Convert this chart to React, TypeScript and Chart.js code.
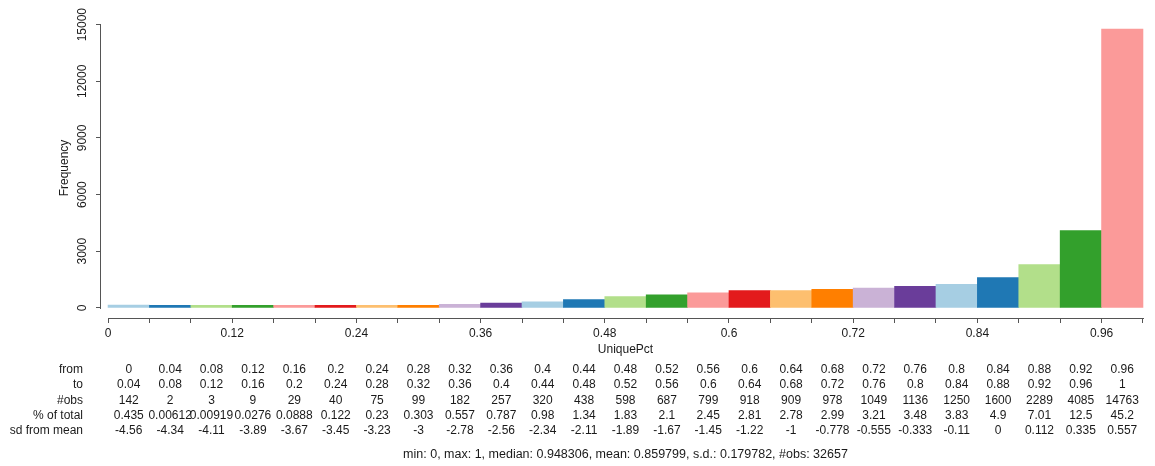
import React, { useEffect, useRef } from 'react';
import { Chart, registerables } from 'chart.js';

Chart.register(...registerables);

const binFrom = [0, 0.04, 0.08, 0.12, 0.16, 0.2, 0.24, 0.28, 0.32, 0.36, 0.4, 0.44, 0.48, 0.52, 0.56, 0.6, 0.64, 0.68, 0.72, 0.76, 0.8, 0.84, 0.88, 0.92, 0.96];
const binTo = [0.04, 0.08, 0.12, 0.16, 0.2, 0.24, 0.28, 0.32, 0.36, 0.4, 0.44, 0.48, 0.52, 0.56, 0.6, 0.64, 0.68, 0.72, 0.76, 0.8, 0.84, 0.88, 0.92, 0.96, 1];
const counts = [142, 2, 3, 9, 29, 40, 75, 99, 182, 257, 320, 438, 598, 687, 799, 918, 909, 978, 1049, 1136, 1250, 1600, 2289, 4085, 14763];
const pctOfTotal = ['0.435', '0.00612', '0.00919', '0.0276', '0.0888', '0.122', '0.23', '0.303', '0.557', '0.787', '0.98', '1.34', '1.83', '2.1', '2.45', '2.81', '2.78', '2.99', '3.21', '3.48', '3.83', '4.9', '7.01', '12.5', '45.2'];
const sdFromMean = ['-4.56', '-4.34', '-4.11', '-3.89', '-3.67', '-3.45', '-3.23', '-3', '-2.78', '-2.56', '-2.34', '-2.11', '-1.89', '-1.67', '-1.45', '-1.22', '-1', '-0.778', '-0.555', '-0.333', '-0.11', '0', '0.112', '0.335', '0.557'];
const rowLabels = ['from', 'to', '#obs', '% of total', 'sd from mean'];
const xTicks = [0, 0.04, 0.08, 0.12, 0.16, 0.2, 0.24, 0.28, 0.32, 0.36, 0.4, 0.44, 0.48, 0.52, 0.56, 0.6, 0.64, 0.68, 0.72, 0.76, 0.8, 0.84, 0.88, 0.92, 0.96, 1];
const xLabelTicks = ['0', '0.12', '0.24', '0.36', '0.48', '0.6', '0.72', '0.84', '0.96'];
const yTicks = [0, 3000, 6000, 9000, 12000, 15000];
const palette = ['#A6CEE3', '#1F78B4', '#B2DF8A', '#33A02C', '#FB9A99', '#E31A1C', '#FDBF6F', '#FF7F00', '#CAB2D6', '#6A3D9A'];
const xTitle = 'UniquePct';
const yTitle = 'Frequency';
const summary = 'min: 0, max: 1, median: 0.948306, mean: 0.859799, s.d.: 0.179782, #obs: 32657';

const FONT = '"Liberation Sans", Arial, Helvetica, sans-serif';
const TEXT = '#1a1a1a';
const AXIS = '#555555';

function fmt(v: number) {
  return String(parseFloat(v.toFixed(4)));
}

const overlay = {
  id: 'rOverlay',
  afterDraw(chart: any) {
    const { ctx, chartArea, scales } = chart;
    const xs = scales.x;
    const ys = scales.y;
    ctx.save();
    // axis lines
    ctx.fillStyle = AXIS;
    const ay = Math.round(chartArea.bottom);
    const x0 = Math.round(xs.getPixelForValue(xTicks[0]));
    const x1 = Math.round(xs.getPixelForValue(xTicks[xTicks.length - 1]));
    ctx.fillRect(x0, ay, x1 - x0 + 1, 1);
    const ax = Math.round(chartArea.left) - 1;
    const y0 = Math.round(ys.getPixelForValue(yTicks[0]));
    const y1 = Math.round(ys.getPixelForValue(yTicks[yTicks.length - 1]));
    ctx.fillRect(ax, y1, 1, y0 - y1 + 1);

    ctx.fillStyle = TEXT;
    ctx.font = `12px ${FONT}`;
    // y tick labels rotated
    ctx.textAlign = 'center';
    ctx.textBaseline = 'middle';
    yTicks.forEach((v) => {
      const py = ys.getPixelForValue(v);
      ctx.save();
      ctx.translate(chartArea.left - 18, py);
      ctx.rotate(-Math.PI / 2);
      ctx.fillText(String(v), 0, 0);
      ctx.restore();
    });
    // y title
    ctx.save();
    ctx.translate(chartArea.left - 36, (chartArea.top + chartArea.bottom) / 2);
    ctx.rotate(-Math.PI / 2);
    ctx.fillText(yTitle, 0, 0);
    ctx.restore();
    // x title
    const cx = (chartArea.left + chartArea.right) / 2;
    ctx.fillText(xTitle, cx, chartArea.bottom + 32);

    // table
    const rows = [
      binFrom.map(fmt),
      binTo.map(fmt),
      counts.map(String),
      pctOfTotal,
      sdFromMean,
    ];
    rows.forEach((row, r) => {
      const py = chartArea.bottom + 51.5 + r * 15.4;
      ctx.textAlign = 'right';
      ctx.fillText(rowLabels[r], chartArea.left - 18, py);
      ctx.textAlign = 'center';
      row.forEach((txt, i) => {
        const px = xs.getPixelForValue((binFrom[i] + binTo[i]) / 2);
        ctx.fillText(txt, px, py);
      });
    });
    ctx.font = `12.5px ${FONT}`;
    ctx.textAlign = 'center';
    ctx.fillText(summary, cx, chartArea.bottom + 137);
    ctx.restore();
  },
};

export default function App() {
  const ref = useRef<HTMLCanvasElement | null>(null);
  useEffect(() => {
    document.body.style.margin = '0';
    const canvas = ref.current;
    if (!canvas) return;
    const chart = new Chart(canvas, {
      type: 'bar',
      data: {
        datasets: [
          {
            data: counts.map((c, i) => ({ x: (binFrom[i] + binTo[i]) / 2, y: c })),
            backgroundColor: counts.map((_, i) => palette[i % palette.length]),
            borderWidth: 0,
            barPercentage: 1,
            categoryPercentage: 1,
            minBarLength: 2.5,
          } as any,
        ],
      },
      options: {
        responsive: false,
        animation: false,
        events: [],
        layout: { padding: { top: 18, right: 5, left: 0, bottom: 0 } },
        plugins: { legend: { display: false }, tooltip: { enabled: false } },
        scales: {
          x: {
            type: 'linear',
            offset: false,
            min: -0.0068,
            max: 1.0068,
            afterBuildTicks: (scale: any) => {
              scale.ticks = xTicks.map((v) => ({ value: v }));
            },
            afterFit: (scale: any) => {
              scale.height = 148;
            },
            ticks: {
              autoSkip: false,
              maxRotation: 0,
              minRotation: 0,
              padding: 3,
              color: TEXT,
              font: { family: FONT, size: 12 },
              callback: (v: any) => {
                const s = fmt(Number(v));
                return xLabelTicks.includes(s) ? s : '';
              },
            },
            grid: {
              offset: false,
              drawOnChartArea: false,
              drawTicks: true,
              tickLength: 5,
              color: AXIS,
              lineWidth: 1,
            },
            border: { display: false },
          },
          y: {
            type: 'linear',
            min: -540,
            max: 15353,
            afterBuildTicks: (scale: any) => {
              scale.ticks = yTicks.map((v) => ({ value: v }));
            },
            afterFit: (scale: any) => {
              scale.width = 101;
            },
            ticks: { display: false },
            grid: {
              drawOnChartArea: false,
              drawTicks: true,
              tickLength: 5,
              color: AXIS,
              lineWidth: 1,
            },
            border: { display: false },
          },
        },
      } as any,
      plugins: [overlay],
    });
    return () => chart.destroy();
  }, []);
  return (
    <div style={{ width: 1155, height: 466, background: '#fff' }}>
      <canvas ref={ref} width={1155} height={466} />
    </div>
  );
}
